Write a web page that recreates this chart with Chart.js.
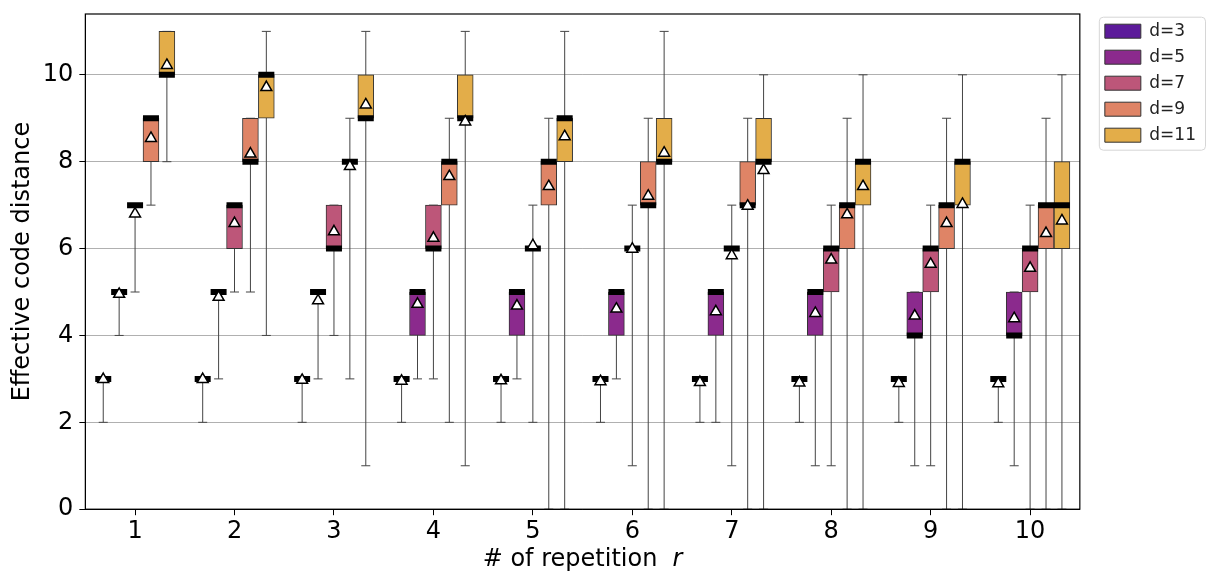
<!DOCTYPE html>
<html>
<head>
<meta charset="utf-8">
<script src="https://cdn.jsdelivr.net/npm/chart.js@4.4.1/dist/chart.umd.min.js"></script>
<style>
  html, body { margin: 0; padding: 0; background: #fff; }
  #wrap { width: 1207px; height: 574px; }
</style>
</head>
<body>
<div id="wrap"><canvas id="chart"></canvas></div>
<script>
const repetitions = ['1', '2', '3', '4', '5', '6', '7', '8', '9', '10'];
const yTicks = [0, 2, 4, 6, 8, 10];
const distances = ['d=3', 'd=5', 'd=7', 'd=9', 'd=11'];
const boxColors = ['#5c1a9a', '#8b2a8d', '#bd5679', '#df8466', '#e3ad49'];

// [min, q1, median, q3, max] for r = 1..10
const statsD3 = [[2,3,3,3,3],[2,3,3,3,3],[2,3,3,3,3],[2,3,3,3,3],[2,3,3,3,3],
                 [2,3,3,3,3],[2,3,3,3,3],[2,3,3,3,3],[2,3,3,3,3],[2,3,3,3,3]];
const statsD5 = [[4,5,5,5,5],[3,5,5,5,5],[3,5,5,5,5],[3,4,5,5,5],[3,4,5,5,5],
                 [3,4,5,5,5],[2,4,5,5,5],[1,4,5,5,5],[1,4,4,5,5],[1,4,4,5,5]];
const statsD7 = [[5,7,7,7,7],[5,6,7,7,7],[4,6,6,7,7],[3,6,6,7,7],[2,6,6,6,7],
                 [1,6,6,6,7],[1,6,6,6,7],[1,5,6,6,7],[1,5,6,6,7],[0,5,6,6,7]];
const statsD9 = [[7,8,9,9,9],[5,8,8,9,9],[3,8,8,8,9],[2,7,8,8,9],[0,7,8,8,9],
                 [0,7,7,8,9],[0,7,7,8,9],[0,6,7,7,9],[0,6,7,7,9],[0,6,7,7,9]];
const statsD11 = [[8,10,10,11,11],[4,9,10,10,11],[1,9,9,10,11],[1,9,9,10,11],[0,8,9,9,11],
                  [0,8,8,9,11],[0,8,8,9,10],[0,7,8,8,10],[0,7,8,8,10],[0,6,7,8,10]];

const meansD3 = [2.99, 2.99, 2.97, 2.95, 2.96, 2.94, 2.92, 2.91, 2.90, 2.89];
const meansD5 = [4.95, 4.88, 4.80, 4.72, 4.68, 4.61, 4.55, 4.51, 4.45, 4.39];
const meansD7 = [6.80, 6.58, 6.39, 6.24, 6.07, 5.99, 5.84, 5.74, 5.64, 5.55];
const meansD9 = [8.54, 8.18, 7.89, 7.66, 7.43, 7.21, 6.98, 6.78, 6.58, 6.35];
const meansD11 = [10.22, 9.71, 9.31, 8.92, 8.58, 8.20, 7.80, 7.43, 7.02, 6.64];

const allStats = [statsD3, statsD5, statsD7, statsD9, statsD11];
const allMeans = [meansD3, meansD5, meansD7, meansD9, meansD11];

Chart.defaults.font.family = "'DejaVu Sans', sans-serif";
Chart.defaults.color = '#000';

// 5 boxes side by side fill 0.8 of each slot
const slot = 0.8 / distances.length;
const datasets = [];

distances.forEach((name, i) => {
  const stats = allStats[i];
  const off = (i - (distances.length - 1) / 2) * slot;
  const whisker = [], caps = [], boxes = [], medians = [], means = [];
  stats.forEach((s, r) => {
    const x = r + 1 + off;
    whisker.push({x: x, y: s[0]}, {x: x, y: s[4]}, {x: x, y: null});
    caps.push({x: x, y: s[0]}, {x: x, y: s[4]});
    boxes.push({x: x, y: [s[1], s[3]]});
    medians.push({x: x, y: s[2]});
    means.push({x: x, y: allMeans[i][r]});
  });

  datasets.push({
    type: 'line', data: whisker, spanGaps: false,
    borderColor: '#444', borderWidth: 1, pointRadius: 0, order: 10
  });
  datasets.push({
    type: 'scatter', data: caps,
    pointStyle: 'line', pointRadius: 4.5, borderColor: '#444', borderWidth: 1, order: 9
  });
  datasets.push({
    type: 'bar', label: name, isBox: true, data: boxes, grouped: false,
    backgroundColor: boxColors[i], borderColor: '#333', borderWidth: 1, borderSkipped: false,
    categoryPercentage: 1.0, barPercentage: 1.0, order: 5
  });
  datasets.push({
    type: 'scatter', data: medians,
    pointStyle: 'line', pointRadius: 8, borderColor: '#000', borderWidth: 6, order: 2
  });
  datasets.push({
    type: 'scatter', data: means,
    pointStyle: 'triangle', pointRadius: 6.3, backgroundColor: '#fff',
    borderColor: '#000', borderWidth: 1.5, order: 1
  });
});

const framePlugin = {
  id: 'frame',
  afterDraw(chart) {
    const {ctx, chartArea: a} = chart;
    ctx.save();
    ctx.strokeStyle = '#000';
    ctx.lineWidth = 1.2;
    ctx.strokeRect(a.left, a.top, a.right - a.left, a.bottom - a.top);

    // legend frame around the items
    const hb = chart.legend.legendHitBoxes;
    if (hb && hb.length) {
      const l = Math.min(...hb.map(b => b.left)) - 6;
      const t = Math.min(...hb.map(b => b.top)) - 6;
      const r = Math.max(...hb.map(b => b.left + b.width)) + 9;
      const btm = Math.max(...hb.map(b => b.top + b.height)) + 6;
      ctx.strokeStyle = '#d6d6d6';
      ctx.lineWidth = 1;
      ctx.beginPath();
      ctx.roundRect(l + 0.5, t + 0.5, r - l, btm - t, 4);
      ctx.stroke();
    }

    // x axis title with italic r
    const y = 560;
    const cx = (a.left + a.right) / 2;
    const t1 = '# of repetition  ';
    const t2 = 'r';
    ctx.fillStyle = '#000';
    ctx.textBaseline = 'middle';
    ctx.textAlign = 'left';
    ctx.font = "24px 'DejaVu Sans'";
    const w1 = ctx.measureText(t1).width;
    ctx.font = "italic 24px 'DejaVu Sans'";
    const w2 = ctx.measureText(t2).width;
    const x0 = cx - (w1 + w2) / 2;
    ctx.font = "24px 'DejaVu Sans'";
    ctx.fillText(t1, x0, y);
    ctx.font = "italic 24px 'DejaVu Sans'";
    ctx.fillText(t2, x0 + w1, y);
    ctx.restore();
  }
};

new Chart(document.getElementById('chart').getContext('2d'), {
  type: 'bar',
  data: { datasets: datasets },
  options: {
    responsive: true,
    maintainAspectRatio: false,
    animation: false,
    events: [],
    layout: { padding: { top: 10, left: 8, right: 1, bottom: 26 } },
    plugins: {
      tooltip: { enabled: false },
      legend: {
        position: 'right',
        align: 'start',
        title: { display: true, text: '', font: { size: 1 }, padding: { top: 2.5, bottom: 0 } },
        labels: {
          filter: (item, data) => !!data.datasets[item.datasetIndex].isBox,
          boxWidth: 36, boxHeight: 14, padding: 9,
          font: { size: 17 }, color: '#222'
        }
      }
    },
    scales: {
      x: {
        type: 'linear', min: 0.5, max: 10.5, offset: false,
        grid: { offset: false, drawOnChartArea: false, drawTicks: true, tickLength: 6, tickColor: '#000' },
        border: { color: '#000' },
        afterBuildTicks(s) { s.ticks = repetitions.map((_, i) => ({ value: i + 1 })); },
        ticks: {
          font: { size: 24 }, padding: 2, color: '#000',
          callback: v => repetitions[v - 1] ?? ''
        }
      },
      y: {
        min: 0, max: 11.4,
        grid: { color: '#b0b0b0', tickLength: 6, tickColor: '#000' },
        border: { color: '#000' },
        afterBuildTicks(s) { s.ticks = yTicks.map(v => ({ value: v })); },
        // small lineHeight keeps the label overflow from pushing the plot top down
        ticks: { font: { size: 24, lineHeight: 0.3 }, padding: 6, color: '#000' },
        title: { display: true, text: 'Effective code distance', font: { size: 24 }, padding: 0, color: '#000' }
      },
      gap: {
        position: 'right', display: true,
        grid: { display: false }, ticks: { display: false }, border: { display: false },
        afterFit(s) { s.width = 16; }
      }
    }
  },
  plugins: [framePlugin]
});
</script>
</body>
</html>
